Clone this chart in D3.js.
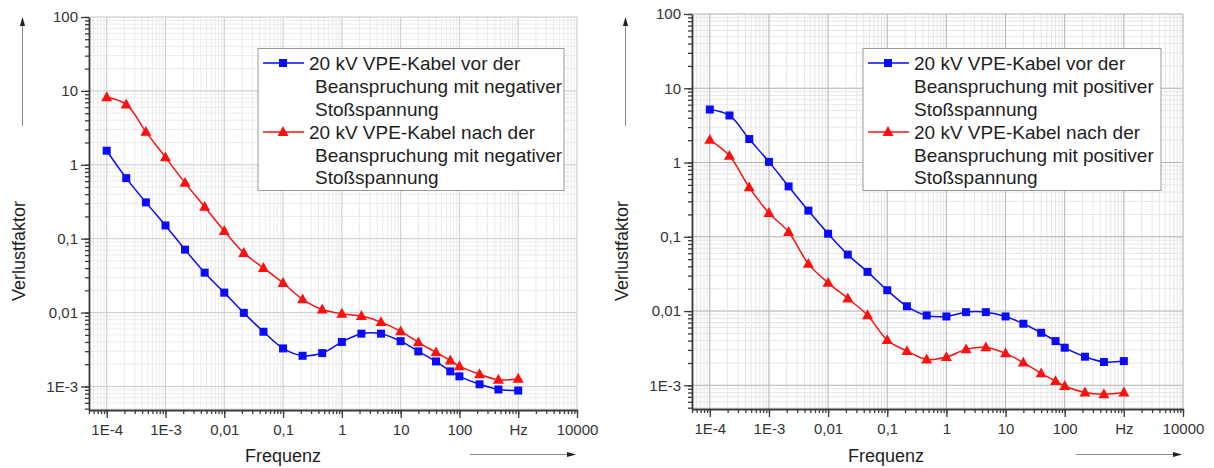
<!DOCTYPE html>
<html>
<head>
<meta charset="utf-8">
<script src="https://cdn.jsdelivr.net/npm/d3@7/dist/d3.min.js"></script>
<style>
  html, body { margin: 0; padding: 0; background: #ffffff; }
  svg { display: block; font-family: "Liberation Sans", Arial, Helvetica, sans-serif; }
</style>
</head>
<body>
<svg id="chart" width="1214" height="468"></svg>
<script>
// Measurement frequencies (Hz), shared by all four curves
const frequencies = [1e-4, 2.15e-4, 4.64e-4, 1e-3, 2.15e-3, 4.64e-3, 0.01, 0.0215, 0.0464, 0.1,
  0.215, 0.464, 1, 2.15, 4.64, 10, 20, 40, 70, 100, 220, 460, 1000];

// Loss factor, cable stressed with negative impulse voltage
const negBefore = [1.55, 0.66, 0.31, 0.151, 0.071, 0.0347, 0.0186, 0.0099, 0.0055, 0.00327,
  0.0026, 0.00283, 0.0040, 0.00518, 0.00518, 0.0041, 0.00298, 0.00218, 0.0016, 0.00137,
  0.00107, 0.00091, 0.00088];
const negAfter = [8.2, 6.56, 2.79, 1.26, 0.569, 0.269, 0.127, 0.064, 0.0401, 0.0251,
  0.0151, 0.0110, 0.00966, 0.00897, 0.00743, 0.00556, 0.00395, 0.00289, 0.00225, 0.00188,
  0.00146, 0.00123, 0.00127];

// Loss factor, cable stressed with positive impulse voltage
const posBefore = [5.17, 4.30, 2.07, 1.02, 0.477, 0.225, 0.110, 0.0576, 0.0337, 0.0191,
  0.0116, 0.00873, 0.00846, 0.00967, 0.00967, 0.00846, 0.00675, 0.0051, 0.00394, 0.00321,
  0.00243, 0.00206, 0.00212];
const posAfter = [2.02, 1.23, 0.463, 0.209, 0.116, 0.0432, 0.024, 0.0148, 0.0088, 0.00406,
  0.00289, 0.00223, 0.0024, 0.00305, 0.00324, 0.00269, 0.00202, 0.00145, 0.00114, 0.00098,
  0.0008, 0.00076, 0.0008];

// Axis ticks and labels
const xTickValues = [1e-4, 1e-3, 1e-2, 1e-1, 1, 10, 100, 1000, 10000];
const xTickLabels = ["1E-4", "1E-3", "0,01", "0,1", "1", "10", "100", "Hz", "10000"];
const yTickValues = [1e-3, 1e-2, 1e-1, 1, 10, 100];
const yTickLabels = ["1E-3", "0,01", "0,1", "1", "10", "100"];

const xTitle = "Frequenz";
const yTitle = "Verlustfaktor";

const legendNeg = [
  ["20 kV VPE-Kabel vor der", "Beanspruchung mit negativer", "Stoßspannung"],
  ["20 kV VPE-Kabel nach der", "Beanspruchung mit negativer", "Stoßspannung"]
];
const legendPos = [
  ["20 kV VPE-Kabel vor der", "Beanspruchung mit positiver", "Stoßspannung"],
  ["20 kV VPE-Kabel nach der", "Beanspruchung mit positiver", "Stoßspannung"]
];

const BLUE = "#0a0aff";
const RED = "#ff1010";
const svg = d3.select("#chart");

// minor values 2..9 of each decade within a domain
function minorValues(lo, hi) {
  const out = [];
  for (let e = Math.floor(Math.log10(lo)); e <= Math.ceil(Math.log10(hi)); e++) {
    for (let m = 1; m <= 9; m++) {
      const v = m * Math.pow(10, e);
      if (v >= lo * 0.999 && v <= hi * 1.001) out.push(v);
    }
  }
  return out;
}

function squareSym(g, x, y, s, c) {
  g.append("rect").attr("x", x - s / 2).attr("y", y - s / 2)
    .attr("width", s).attr("height", s).attr("fill", c);
}
function triSym(g, x, y, s, c) {
  const h = s * 0.9;
  g.append("path")
    .attr("d", `M${x},${y - h * 0.6}L${x + s / 2},${y + h * 0.4}L${x - s / 2},${y + h * 0.4}Z`)
    .attr("fill", c);
}

function panel(cfg) {
  const g = svg.append("g");
  const x = d3.scaleLog().domain([5e-5, 1e4]).range([cfg.x0, cfg.x1]);
  const y = d3.scaleLog().domain([4.8e-4, 100]).range([cfg.y1, cfg.y0]);
  const xMin = minorValues(5e-5, 1e4);
  const yMin = minorValues(4.8e-4, 100);

  // grid: minor first, then major
  const grid = g.append("g");
  grid.selectAll(".vmin").data(xMin).join("line")
    .attr("x1", d => x(d)).attr("x2", d => x(d))
    .attr("y1", cfg.y0).attr("y2", cfg.y1)
    .attr("stroke", cfg.minorGrid).attr("stroke-width", 1);
  grid.selectAll(".hmin").data(yMin).join("line")
    .attr("y1", d => y(d)).attr("y2", d => y(d))
    .attr("x1", cfg.x0).attr("x2", cfg.x1)
    .attr("stroke", cfg.minorGrid).attr("stroke-width", 1);
  grid.selectAll(".vmaj").data(xTickValues).join("line")
    .attr("x1", d => x(d)).attr("x2", d => x(d))
    .attr("y1", cfg.y0).attr("y2", cfg.y1)
    .attr("stroke", cfg.majorGrid).attr("stroke-width", 1);
  grid.selectAll(".hmaj").data(yTickValues).join("line")
    .attr("y1", d => y(d)).attr("y2", d => y(d))
    .attr("x1", cfg.x0).attr("x2", cfg.x1)
    .attr("stroke", cfg.majorGrid).attr("stroke-width", 1);

  // axes
  const axisColor = "#3a3a3a";
  const xMinorAxis = g.append("g").attr("transform", `translate(0,${cfg.y1})`)
    .call(d3.axisBottom(x).tickValues(xMin).tickSize(4).tickFormat(""));
  const xAxis = g.append("g").attr("transform", `translate(0,${cfg.y1})`)
    .call(d3.axisBottom(x).tickValues(xTickValues).tickSize(8).tickSizeOuter(0).tickPadding(6)
      .tickFormat((d, i) => xTickLabels[i]));
  const yMinorAxis = g.append("g").attr("transform", `translate(${cfg.x0},0)`)
    .call(d3.axisLeft(y).tickValues(yMin).tickSize(4).tickFormat(""));
  const yAxis = g.append("g").attr("transform", `translate(${cfg.x0},0)`)
    .call(d3.axisLeft(y).tickValues(yTickValues).tickSize(8).tickSizeOuter(0).tickPadding(3)
      .tickFormat((d, i) => yTickLabels[i]));
  [xMinorAxis, yMinorAxis].forEach(a => a.select(".domain").remove());
  [xMinorAxis, xAxis, yMinorAxis, yAxis].forEach(a => {
    a.selectAll("line").attr("stroke", axisColor).attr("stroke-width", 1.3);
    a.selectAll(".domain").attr("stroke", axisColor).attr("stroke-width", 1.8);
    a.selectAll("text").attr("fill", "#333").style("font-size", "15px")
      .style("font-family", "'Liberation Sans', Arial, sans-serif");
  });

  // curves
  const line = d3.line()
    .x(d => x(d[0])).y(d => y(d[1]))
    .curve(d3.curveCatmullRom.alpha(0.5));
  cfg.series.forEach(s => {
    const pts = frequencies.map((f, i) => [f, s.values[i]]);
    g.append("path").attr("d", line(pts)).attr("fill", "none")
      .attr("stroke", s.color).attr("stroke-width", 1.5);
    const mg = g.append("g");
    pts.forEach(p => s.sym(mg, x(p[0]), y(p[1]), s.size, s.color));
  });

  // legend
  const lg = g.append("g");
  lg.append("rect").attr("x", cfg.lx).attr("y", 48.5).attr("width", cfg.lw).attr("height", 142)
    .attr("fill", "#fff").attr("stroke", "#9a9a9a").attr("stroke-width", 1);
  const rowY = [63, 86, 109, 132, 155, 177];
  cfg.series.forEach((s, si) => {
    const cy = rowY[si * 3];
    lg.append("line").attr("x1", cfg.lx + 5).attr("x2", cfg.lx + 46)
      .attr("y1", cy).attr("y2", cy).attr("stroke", s.color).attr("stroke-width", 1.5);
    s.sym(lg, cfg.lx + 25, cy, s.size, s.color);
    cfg.legend[si].forEach((t, li) => {
      lg.append("text").attr("x", cfg.lx + 51 + (li > 0 ? cfg.indent : 0))
        .attr("y", rowY[si * 3 + li]).attr("dy", "0.35em")
        .attr("fill", "#1e1e1e").style("font-size", "19px").text(t);
    });
  });

  // axis titles and direction arrows
  g.append("text").attr("x", cfg.x0 + 156).attr("y", 461.5)
    .attr("fill", "#1e1e1e").style("font-size", "18px").text(xTitle);
  g.append("text")
    .attr("transform", `translate(${cfg.x0 - 64},251) rotate(-90)`)
    .attr("text-anchor", "middle").attr("fill", "#1e1e1e").style("font-size", "18px").text(yTitle);

  const ax = cfg.x0 - 66.5;
  g.append("line").attr("x1", ax).attr("x2", ax).attr("y1", 126).attr("y2", 24)
    .attr("stroke", "#8a8a8a").attr("stroke-width", 1);
  g.append("path").attr("d", `M${ax},17L${ax + 2.6},26L${ax - 2.6},26Z`).attr("fill", "#222");
  g.append("line").attr("x1", cfg.x1 - 107).attr("x2", cfg.x1 - 8).attr("y1", 454.5).attr("y2", 454.5)
    .attr("stroke", "#8a8a8a").attr("stroke-width", 1);
  g.append("path").attr("d", `M${cfg.x1 - 1},454.5L${cfg.x1 - 10},451.9L${cfg.x1 - 10},457.1Z`).attr("fill", "#222");
}

panel({
  x0: 89, x1: 577, y0: 17, y1: 410,
  minorGrid: "#ebebeb", majorGrid: "#cfcfcf",
  lx: 258, lw: 306, indent: 6,
  legend: legendNeg,
  series: [
    { values: negBefore, color: BLUE, sym: squareSym, size: 8 },
    { values: negAfter, color: RED, sym: triSym, size: 11 }
  ]
});
panel({
  x0: 692, x1: 1183, y0: 14, y1: 409,
  minorGrid: "#e6e6e6", majorGrid: "#b8b8b8",
  lx: 863, lw: 298, indent: 0,
  legend: legendPos,
  series: [
    { values: posBefore, color: BLUE, sym: squareSym, size: 8 },
    { values: posAfter, color: RED, sym: triSym, size: 11 }
  ]
});
</script>
</body>
</html>
